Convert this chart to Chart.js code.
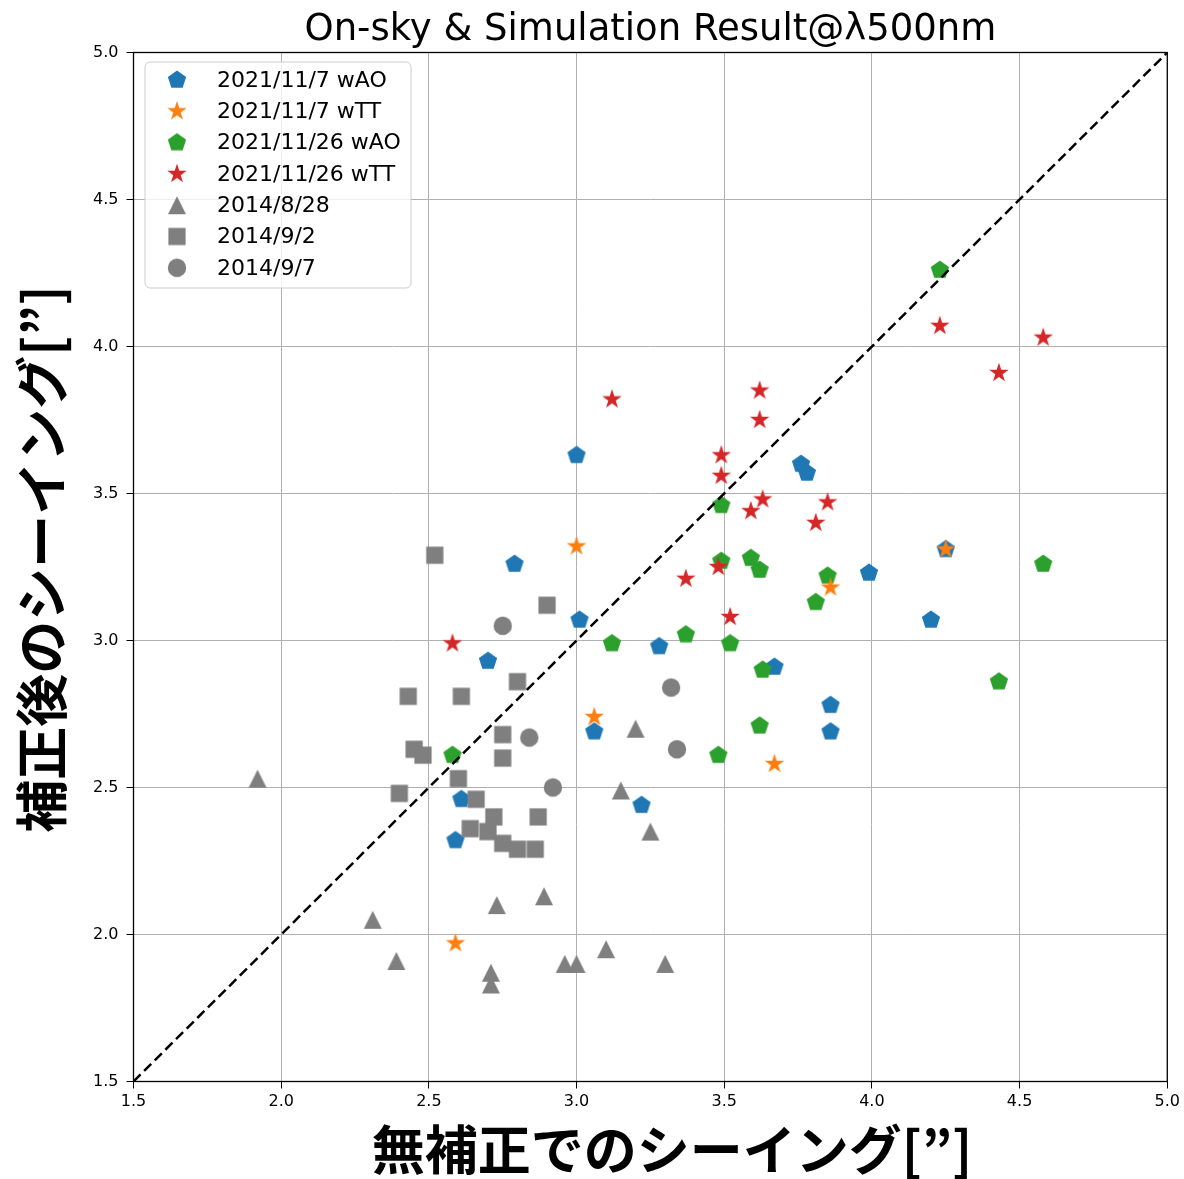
<!DOCTYPE html>
<html>
<head>
<meta charset="utf-8">
<script src="https://cdn.jsdelivr.net/npm/chart.js@4.4.1/dist/chart.umd.min.js"></script>
<style>
  html, body { margin: 0; padding: 0; background: #ffffff; }
  #wrap { width: 1184px; height: 1179px; }
</style>
</head>
<body>
<div id="wrap"><canvas id="c" width="1184" height="1179"></canvas></div>
<script>
// ---- data ----
const seriesLabels = ['2021/11/7 wAO', '2021/11/7 wTT', '2021/11/26 wAO', '2021/11/26 wTT', '2014/8/28', '2014/9/2', '2014/9/7'];

const ao1107X = [3.00, 2.79, 2.70, 3.01, 3.28, 3.06, 2.61, 2.59, 3.22, 3.67, 3.76, 3.78, 3.99, 4.25, 4.20, 3.86, 3.86];
const ao1107Y = [3.63, 3.26, 2.93, 3.07, 2.98, 2.69, 2.46, 2.32, 2.44, 2.91, 3.60, 3.57, 3.23, 3.31, 3.07, 2.78, 2.69];

const tt1107X = [3.00, 3.06, 3.67, 3.86, 4.25, 2.59];
const tt1107Y = [3.32, 2.74, 2.58, 3.18, 3.31, 1.97];

const ao1126X = [4.23, 4.58, 4.43, 3.85, 3.81, 3.59, 3.62, 3.49, 3.49, 3.37, 3.12, 3.52, 3.63, 3.62, 3.48, 2.58];
const ao1126Y = [4.26, 3.26, 2.86, 3.22, 3.13, 3.28, 3.24, 3.46, 3.27, 3.02, 2.99, 2.99, 2.90, 2.71, 2.61, 2.61];

const tt1126X = [3.12, 3.49, 3.49, 3.62, 3.62, 3.63, 3.59, 3.85, 3.81, 3.37, 3.48, 3.52, 2.58, 4.23, 4.43, 4.58];
const tt1126Y = [3.82, 3.63, 3.56, 3.85, 3.75, 3.48, 3.44, 3.47, 3.40, 3.21, 3.25, 3.08, 2.99, 4.07, 3.91, 4.03];

const d0828X = [1.92, 3.15, 3.25, 3.20, 2.89, 2.73, 2.31, 2.39, 2.71, 2.71, 2.96, 3.00, 3.10, 3.30];
const d0828Y = [2.53, 2.49, 2.35, 2.70, 2.13, 2.10, 2.05, 1.91, 1.87, 1.83, 1.90, 1.90, 1.95, 1.90];

const d0902X = [2.52, 2.90, 2.80, 2.43, 2.61, 2.75, 2.75, 2.45, 2.48, 2.60, 2.40, 2.66, 2.72, 2.87, 2.64, 2.70, 2.75, 2.80, 2.86];
const d0902Y = [3.29, 3.12, 2.86, 2.81, 2.81, 2.68, 2.60, 2.63, 2.61, 2.53, 2.48, 2.46, 2.40, 2.40, 2.36, 2.35, 2.31, 2.29, 2.29];

const d0907X = [2.75, 2.84, 2.92, 3.32, 3.34];
const d0907Y = [3.05, 2.67, 2.50, 2.84, 2.63];

const diagX = [1.5, 5.0];
const diagY = [1.5, 5.0];

const axisMin = 1.5, axisMax = 5.0, axisStep = 0.5;
const titleText = 'On-sky & Simulation Result@\u03BB500nm';
const xTitle = '無補正でのシーイング[”]';
const yTitle = '補正後のシーイング[”]';

// ---- helpers ----
function pts(xs, ys) { return xs.map((x, i) => ({ x: x, y: ys[i] })); }

function makeMarker(shape, color) {
  const S = 28;
  const c = document.createElement('canvas');
  c.width = S; c.height = S;
  const g = c.getContext('2d');
  g.translate(S / 2, S / 2);
  g.fillStyle = color;
  g.beginPath();
  if (shape === 'pentagon') {
    const r = 9.6;
    for (let i = 0; i < 5; i++) {
      const a = -Math.PI / 2 + i * 2 * Math.PI / 5;
      g.lineTo(r * Math.cos(a), r * Math.sin(a));
    }
  } else if (shape === 'star') {
    const ro = 10.2, ri = ro * 0.381966;
    for (let i = 0; i < 10; i++) {
      const a = -Math.PI / 2 + i * Math.PI / 5;
      const r = (i % 2 === 0) ? ro : ri;
      g.lineTo(r * Math.cos(a), r * Math.sin(a));
    }
  } else if (shape === 'triangle') {
    const h = 9;
    g.moveTo(0, -h); g.lineTo(-h, h); g.lineTo(h, h);
  } else if (shape === 'square') {
    const h = 8.6;
    g.rect(-h, -h, 2 * h, 2 * h);
  } else if (shape === 'circle') {
    g.arc(0, 0, 9.2, 0, Math.PI * 2);
  }
  g.closePath();
  g.fill();
  return c;
}

const C_BLUE = '#1f77b4', C_ORANGE = '#ff7f0e', C_GREEN = '#2ca02c', C_RED = '#d62728', C_GRAY = '#7f7f7f';

const markers = [
  makeMarker('pentagon', C_BLUE),
  makeMarker('star', C_ORANGE),
  makeMarker('pentagon', C_GREEN),
  makeMarker('star', C_RED),
  makeMarker('triangle', C_GRAY),
  makeMarker('square', C_GRAY),
  makeMarker('circle', C_GRAY)
];

function sc(idx, data, order) {
  return {
    label: seriesLabels[idx],
    data: data,
    pointStyle: markers[idx],
    pointRadius: 9,
    pointHoverRadius: 9,
    backgroundColor: 'rgba(0,0,0,0)',
    borderColor: 'rgba(0,0,0,0)',
    showLine: false,
    order: order
  };
}

// title, axis titles, spines and in-plot legend
const framePlugin = {
  id: 'frame',
  afterDatasetsDraw(chart) {
    const { ctx, chartArea: a } = chart;
    ctx.save();
    ctx.strokeStyle = '#000000';
    ctx.lineWidth = 1.3;
    ctx.strokeRect(a.left, a.top, a.right - a.left, a.bottom - a.top);

    // title centred over the plot area
    ctx.font = '37px "DejaVu Sans"';
    ctx.fillStyle = '#000000';
    ctx.textAlign = 'center';
    ctx.textBaseline = 'alphabetic';
    ctx.fillText(titleText, (a.left + a.right) / 2, 40);

    // axis titles
    ctx.font = 'bold 53px "Noto Sans CJK JP"';
    ctx.textBaseline = 'middle';
    ctx.textAlign = 'center';
    ctx.fillText(xTitle, 672, 1150);
    ctx.save();
    ctx.translate(42, 559);
    ctx.rotate(-Math.PI / 2);
    ctx.fillText(yTitle, 0, 0);
    ctx.restore();

    // legend
    const bx = 145, by = 62, bw = 266, bh = 226, rr = 5;
    ctx.beginPath();
    ctx.moveTo(bx + rr, by);
    ctx.arcTo(bx + bw, by, bx + bw, by + bh, rr);
    ctx.arcTo(bx + bw, by + bh, bx, by + bh, rr);
    ctx.arcTo(bx, by + bh, bx, by, rr);
    ctx.arcTo(bx, by, bx + bw, by, rr);
    ctx.closePath();
    ctx.fillStyle = 'rgba(255,255,255,0.8)';
    ctx.fill();
    ctx.strokeStyle = '#cccccc';
    ctx.lineWidth = 1;
    ctx.stroke();

    ctx.font = '22px "DejaVu Sans"';
    ctx.fillStyle = '#000000';
    ctx.textAlign = 'left';
    ctx.textBaseline = 'middle';
    for (let i = 0; i < seriesLabels.length; i++) {
      const y = 80 + i * 31.3;
      const m = markers[i];
      ctx.drawImage(m, 177 - m.width / 2, y - m.height / 2);
      ctx.fillText(seriesLabels[i], 217, y + 1);
    }
    ctx.restore();
  }
};

function tickFmt(v) { return Number(v).toFixed(1); }

function build() {
  const ctx = document.getElementById('c').getContext('2d');
  new Chart(ctx, {
    type: 'scatter',
    data: {
      datasets: [
        {
          label: 'diag',
          data: pts(diagX, diagY),
          showLine: true,
          borderColor: '#000000',
          borderWidth: 2.5,
          borderDash: [10, 5],
          pointRadius: 0,
          pointHoverRadius: 0,
          fill: false,
          order: 0
        },
        sc(0, pts(ao1107X, ao1107Y), 7),
        sc(1, pts(tt1107X, tt1107Y), 5),
        sc(2, pts(ao1126X, ao1126Y), 6),
        sc(3, pts(tt1126X, tt1126Y), 4),
        sc(4, pts(d0828X, d0828Y), 3),
        sc(5, pts(d0902X, d0902Y), 2),
        sc(6, pts(d0907X, d0907Y), 1)
      ]
    },
    options: {
      responsive: false,
      animation: false,
      devicePixelRatio: 1,
      layout: { padding: { top: 52.5, left: 0, right: 14.5, bottom: 0 } },
      plugins: {
        legend: { display: false },
        tooltip: { enabled: false },
        title: { display: false }
      },
      scales: {
        x: {
          type: 'linear',
          min: axisMin, max: axisMax,
          afterFit: (s) => { s.height = 97.5; },
          ticks: {
            stepSize: axisStep,
            callback: tickFmt,
            color: '#000000',
            font: { family: '"DejaVu Sans"', size: 16 },
            padding: 4,
            maxRotation: 0
          },
          grid: { color: '#b0b0b0', lineWidth: 1, drawTicks: true, tickLength: 7, tickColor: '#000000', tickWidth: 1 },
          border: { display: false },
          title: { display: false }
        },
        y: {
          type: 'linear',
          min: axisMin, max: axisMax,
          afterFit: (s) => { s.width = 133.5; },
          ticks: {
            stepSize: axisStep,
            callback: tickFmt,
            color: '#000000',
            font: { family: '"DejaVu Sans"', size: 16 },
            padding: 8
          },
          grid: { color: '#b0b0b0', lineWidth: 1, drawTicks: true, tickLength: 7, tickColor: '#000000', tickWidth: 1 },
          border: { display: false },
          title: { display: false }
        }
      }
    },
    plugins: [framePlugin]
  });
}

Promise.all([
  document.fonts.load('bold 53px "Noto Sans CJK JP"', '補正後のシーイング無'),
  document.fonts.load('16px "DejaVu Sans"', '0123')
]).then(build, build);
</script>
</body>
</html>
